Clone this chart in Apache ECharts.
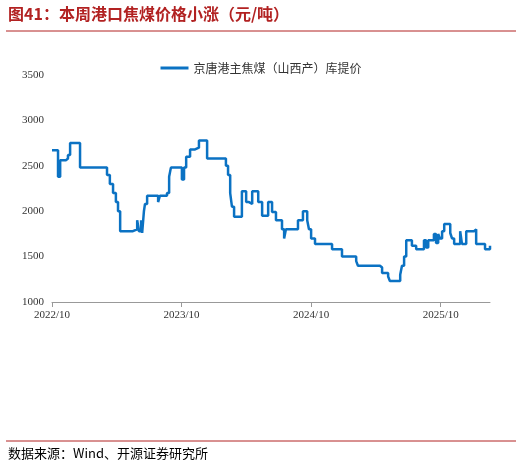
<!DOCTYPE html><html><head><meta charset="utf-8">
<script src="https://cdn.jsdelivr.net/npm/echarts@6/dist/echarts.min.js"></script>
<style>body{margin:0}#c{width:522px;height:471px}</style></head><body><div id="c"></div>
<script>
const seriesName='京唐港主焦煤（山西产）库提价';
const xTickLabels=['2022/10','2023/10','2024/10','2025/10'];
const days=[0,17,23,39,45,51,79,155,163,172,180,186,192,228,231,240,245,251,254,259,262,268,273,299,304,324,330,335,366,372,378,389,403,414,437,490,496,502,507,513,535,547,555,564,581,592,609,620,631,648,654,659,693,707,719,724,730,741,789,817,857,862,924,930,947,952,981,986,992,998,1014,1026,1048,1054,1060,1076,1082,1088,1093,1099,1105,1122,1127,1133,1150,1155,1167,1189,1195,1220,1234];
const prices=[2670,2380,2560,2580,2620,2750,2480,2400,2300,2200,2100,2000,1780,1760,1800,1900,1780,1900,1760,2000,2080,2170,2170,2100,2170,2200,2380,2480,2350,2480,2600,2680,2700,2780,2580,2500,2400,2200,2050,1940,2220,2100,2080,2220,2100,1950,2100,1990,1900,1800,1700,1800,1900,2000,1900,1800,1700,1640,1580,1500,1450,1400,1380,1320,1280,1230,1300,1400,1500,1680,1620,1580,1680,1600,1680,1750,1650,1750,1700,1780,1860,1760,1700,1640,1780,1640,1780,1800,1640,1580,1620];
const data=days.map((d,i)=>[d,prices[i]]);
const chart=echarts.init(document.getElementById('c'));
const lab={fontFamily:'Liberation Serif',fontSize:11,color:'#333'};
chart.setOption({
 graphic:[
  {type:'text',left:8,top:6,style:{text:'图41：本周港口焦煤价格小涨（元/吨）',fontSize:16,fontWeight:'bold',fill:'#B22222',fontFamily:'Noto Sans CJK SC'}},
  {type:'line',shape:{x1:6,y1:31,x2:516,y2:31},style:{stroke:'#B22222',lineWidth:1}},
  {type:'line',shape:{x1:6,y1:441,x2:516,y2:441},style:{stroke:'#B22222',lineWidth:1}},
  {type:'text',left:8,top:447,style:{text:'数据来源：Wind、开源证券研究所',fontSize:13,fill:'#000',fontFamily:'Noto Sans CJK SC'}}
 ],
 legend:{top:57,left:'center',itemWidth:28,itemHeight:3,textStyle:{fontSize:12,color:'#333',fontFamily:'Noto Sans CJK SC'},data:[{name:seriesName,icon:'rect'}]},
 grid:{left:52,right:32,top:75,bottom:169},
 xAxis:{type:'value',min:0,max:1234,interval:365,axisLine:{lineStyle:{color:'#999'}},axisTick:{show:true,lineStyle:{color:'#999'}},splitLine:{show:false},
  axisLabel:Object.assign({},lab,{showMaxLabel:false,formatter:v=>xTickLabels[Math.round(v/365)]||''})},
 yAxis:{type:'value',min:1000,max:3500,interval:500,axisLine:{show:false},axisTick:{show:false},splitLine:{show:false},axisLabel:Object.assign({},lab,{formatter:v=>String(v)})},
 series:[{name:seriesName,type:'line',step:'end',data:data,showSymbol:false,lineStyle:{color:'#0B72C3',width:2.5},itemStyle:{color:'#0B72C3'}}]
});
</script></body></html>
